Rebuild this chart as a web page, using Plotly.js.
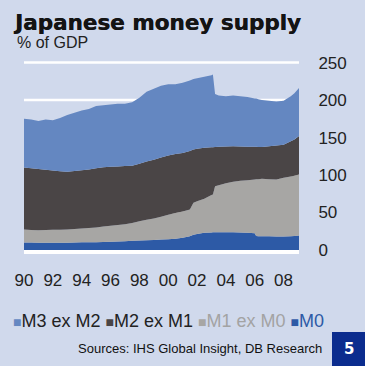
<!DOCTYPE html>
<html>
<head>
<meta charset="utf-8">
<script src="https://cdn.plot.ly/plotly-3.0.1.min.js"></script>
<style>html,body{margin:0;padding:0;background:#d0d9ec;}#chart{width:365px;height:366px;}</style>
</head>
<body>
<div id="chart"></div>
<script>
// Time axis (decimal years)
const years = [1990.0,1990.5,1991.0,1991.5,1992.0,1992.5,1993.0,1993.5,1994.0,1994.5,1995.0,1995.5,1996.0,1996.5,1997.0,1997.5,1998.0,1998.5,1999.0,1999.5,2000.0,2000.5,2001.0,2001.5,2001.75,2002.0,2002.5,2003.0,2003.1,2003.25,2003.5,2004.0,2004.5,2005.0,2005.5,2006.0,2006.1,2006.25,2006.5,2007.0,2007.5,2008.0,2008.5,2008.75,2009.07];

// Series (% of GDP), stacked bottom to top
const m0      = [10,10,9.8,9.7,9.6,9.6,9.8,10,10.2,10.4,10.5,10.8,11.1,11.4,11.8,12.2,12.6,13,13.5,14,14.5,15,16.2,18.5,20.5,21.5,23,23.5,23.6,23.7,23.7,23.8,23.7,23.3,23,22.2,18.6,18.4,18.2,18.2,18,18,18.3,18.6,19.3];
const m1exM0  = [17.3,16.8,16.6,16.9,17.3,17.4,17.5,18,18.5,18.9,19.5,20.4,21.2,21.9,22.5,23.8,25.6,27.2,28.5,30.3,32.5,34.5,35.3,35.5,42.5,43.5,45.5,50,50.4,61.3,62.8,65.2,67.3,69,70,71.8,75.7,76.1,76.8,76.3,76,78.3,79.7,80.4,81.4];
const m2exM1  = [82.7,82.2,81.6,80.4,79.1,78,77.2,77.5,77.8,78.2,79,79.3,78.7,78.2,77.7,76.5,76.8,77.8,78.5,79.2,79,78.5,78,78,71,70,67.8,63.5,63.2,52.5,51.3,49,47.4,45.7,44.6,43.6,43.3,43,42.5,44,45.3,44.2,47,48.5,51.3];
const m3exM2  = [65,65,64,67,67,71,75.5,77.5,79.5,80.5,83,82.5,83,83.5,83,84.5,88,93,94.5,95.5,95,93,93.5,94,94,94,94.7,96,96.8,70.5,68.2,67,67.6,67,66.4,64.4,64.4,63.5,62.5,60.5,58.7,58.5,60,61.5,64];

const seriesNames  = ['M0','M1 ex M0','M2 ex M1','M3 ex M2'];
const seriesColors = ['#2d5aa6','#a7a6a4','#4a4546','#6487c1'];
const legendTextColors = ['#2d5aa6','#a3a3a3','#222222','#222222'];

const yTicks = [0,50,100,150,200,250];
const tickVals = [1990,1992,1994,1996,1998,2000,2002,2004,2006,2008];
const tickText = ['90','92','94','96','98','00','02','04','06','08'];

const values = [m0, m1exM0, m2exM1, m3exM2];
const traces = values.map((v,i)=>({
  x: years, y: v, type:'scatter', mode:'none', stackgroup:'one',
  fillcolor: seriesColors[i], line:{width:0, shape:'linear'},
  name: seriesNames[i], showlegend:false, hoverinfo:'skip'
}));

// Legend as text (order: top series first)
const order = [3,2,1,0];
const legendHtml = order.map(i =>
  '<span style="color:'+seriesColors[i]+';font-size:14px">■</span><span style="color:'+legendTextColors[i]+'">'+seriesNames[i]+'</span>'
).join(' ');

const W=365,H=366,L=24,R=66,T=59,B=116;
const pw=W-L-R, ph=H-T-B;
const px = x => (x-L)/pw;
const py = y => (H-B-y)/ph;

// white gridlines drawn beneath the areas
const gridShapes = yTicks.filter(v=>v>0).map(v=>({type:'line', xref:'paper', yref:'y', x0:0, x1:1, y0:v, y1:v,
  line:{color:'#ffffff', width:2.5}, layer:'below'}));

const layout = {
  width:W, height:H,
  margin:{l:L,r:R,t:T,b:B,pad:0},
  paper_bgcolor:'#d0d9ec', plot_bgcolor:'#d0d9ec',
  font:{family:'"Liberation Sans", Arial, sans-serif', color:'#222'},
  title:{text:'Japanese money supply', font:{family:'"DejaVu Sans", sans-serif', size:21.5, color:'#141414', weight:'bold', shadow:'0.4px 0 0 #141414'},
         xref:'container', yref:'container', x:15/W, xanchor:'left', y:1-22/H, yanchor:'middle'},
  xaxis:{range:[1990,2009.07], tickvals:tickVals, ticktext:tickText, showgrid:false, zeroline:false,
         showline:true, linecolor:'#ffffff', linewidth:4, ticks:'outside', ticklen:12, tickcolor:'rgba(0,0,0,0)',
         tickfont:{size:17, color:'#222'}, fixedrange:true},
  yaxis:{range:[0,254.8], tickvals:yTicks, side:'right', showgrid:false, zeroline:false,
         showline:false, ticks:'outside', ticklen:15, tickcolor:'rgba(0,0,0,0)', tickfont:{size:17, color:'#222'}, fixedrange:true},
  shapes:gridShapes.concat([{type:'rect', xref:'paper', yref:'paper', x0:px(332), x1:px(366), y0:py(367), y1:py(332), fillcolor:'#0b2c8e', line:{width:0}}]),
  annotations:[
    {text:'% of GDP', xref:'paper', yref:'paper', x:px(15), y:py(43), xanchor:'left', yanchor:'middle', showarrow:false,
     font:{size:16, color:'#222'}},
    {text:legendHtml, xref:'paper', yref:'paper', x:px(11), y:py(321), xanchor:'left', yanchor:'middle', showarrow:false,
     font:{size:18, color:'#222'}},
    {text:'Sources: IHS Global Insight, DB Research', xref:'paper', yref:'paper', x:px(324), y:py(348), xanchor:'right', yanchor:'middle', showarrow:false,
     font:{size:13, color:'#111'}},
    {text:'<b>5</b>', xref:'paper', yref:'paper', x:px(349), y:py(349), xanchor:'center', yanchor:'middle', showarrow:false,
     font:{family:'"DejaVu Sans", sans-serif', size:15, color:'#ffffff'}}
  ]
};

Plotly.newPlot('chart', traces, layout, {displayModeBar:false, staticPlot:true});
</script>
</body>
</html>
